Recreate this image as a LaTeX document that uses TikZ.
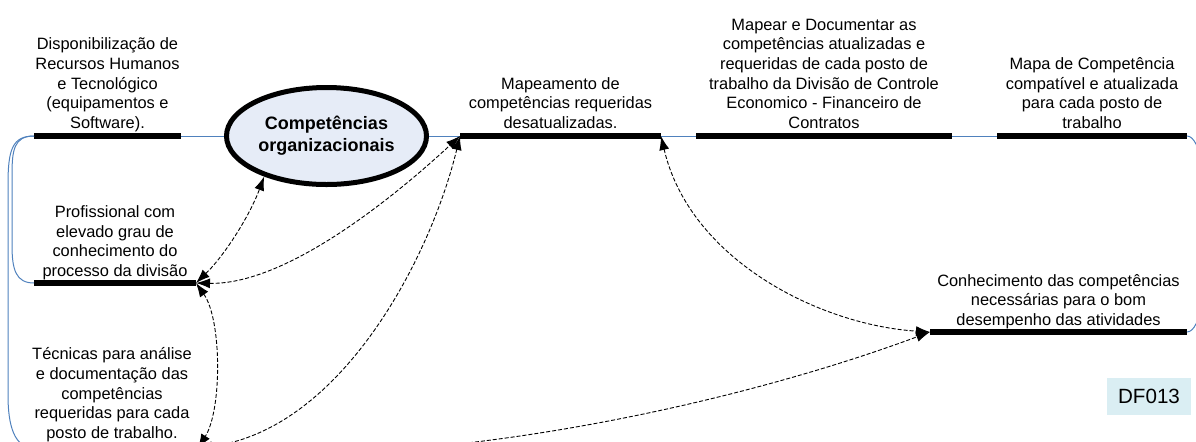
\documentclass[tikz,border=0pt]{standalone}
\usepackage{fontspec}
\setmainfont{Liberation Sans}
\usetikzlibrary{arrows.meta,shapes.geometric}
\definecolor{linkblue}{HTML}{4F81BD}
\definecolor{ovalfill}{HTML}{E6ECF7}
\definecolor{tagfill}{HTML}{DAEEF3}
\tikzset{
	bar/.style={line width=2.6pt},
	link/.style={linkblue,line width=0.5pt},
	dep/.style={dash pattern=on 2pt off 1pt,line width=0.45pt,{Latex[length=7pt,width=5pt]}-{Latex[length=7pt,width=5pt]}},
	lbl/.style={align=center,anchor=south,inner sep=0pt,text depth=0pt,font=\fontsize{8.2}{9.85}\selectfont},
	oval/.style={ellipse,draw,line width=2.5pt,fill=ovalfill,minimum width=100pt,minimum height=48.5pt,inner sep=0pt,align=center,font=\fontsize{9}{11}\selectfont\bfseries},
	tag/.style={fill=tagfill,minimum width=42pt,minimum height=18.5pt,inner sep=0pt,font=\fontsize{10.3}{12}\selectfont},
}

\begin{document}
\begin{tikzpicture}[x=0.5pt,y=-0.5pt]
	\useasboundingbox (0,0) rectangle (1196,441);
	% bars
	\coordinate (dispW) at (34,136);
	\coordinate (dispE) at (181,136);
	\coordinate (profW) at (34,283);
	\coordinate (profE) at (196,283);
	\coordinate (tecW) at (34,448);
	\coordinate (tecE) at (198,448);
	\coordinate (mapW) at (460,136);
	\coordinate (mapE) at (661,136);
	\coordinate (docW) at (696,136);
	\coordinate (docE) at (952,136);
	\coordinate (mapaW) at (997,136);
	\coordinate (mapaE) at (1187,136);
	\coordinate (conW) at (930,332);
	\coordinate (conE) at (1187,332);
	\draw[bar] (dispW) -- (dispE);
	\draw[bar] (profW) -- (profE);
	\draw[bar] (tecW) -- (tecE);
	\draw[bar] (mapW) -- (mapE);
	\draw[bar] (docW) -- (docE);
	\draw[bar] (mapaW) -- (mapaE);
	\draw[bar] (conW) -- (conE);

	\node[oval] (oval) at (326.5,136) {Competências\\organizacionais};
	\node[tag] (df) at (1149,396.5) {DF013};

	\node[lbl] (tDisp) at (107.5,129) {Disponibilização de\\Recursos Humanos\\e Tecnológico\\(equipamentos e\\Software).};
	\node[lbl] (tProf) at (115,277) {Profissional com\\elevado grau de\\conhecimento do\\processo da divisão};
	\node[lbl] (tTec) at (112,439) {Técnicas para análise\\e documentação das\\competências\\requeridas para cada\\posto de trabalho.};
	\node[lbl] (tMap) at (560.5,129) {Mapeamento de\\competências requeridas\\desatualizadas.};
	\node[lbl] (tDoc) at (824,129) {Mapear e Documentar as\\competências atualizadas e\\requeridas de cada posto de\\trabalho da Divisão de Controle\\Economico - Financeiro de\\Contratos};
	\node[lbl] (tMapa) at (1092,129) {Mapa de Competência\\compatível e atualizada\\para cada posto de\\trabalho};
	\node[lbl] (tCon) at (1058.5,326) {Conhecimento das competências\\necessárias para o bom\\desempenho das atividades};

	% blue flow
	\draw[link] (dispE) -- (oval.west);
	\draw[link] (oval.east) -- (mapW);
	\draw[link] (mapE) -- (docW);
	\draw[link] (docE) -- (mapaW);
	\draw[link] (mapaE) .. controls (1215,136) and (1215,332) .. (conE);
	\draw[link] (dispW) .. controls (14,136) and (12,150) .. (12,175) -- (12,245) .. controls (12,270) and (16,283) .. (profW);
	\draw[link] (dispW) .. controls (12,136) and (8,150) .. (8,185) -- (8,395) .. controls (8,425) and (14,448) .. (tecW);

	% dashed links
	\draw[dep] (profE) .. controls (225,255) and (250,215) .. (oval.213);
	\draw[dep] (profE) .. controls (280,285) and (380,210) .. (mapW);
	\draw[dep] (profE) .. controls (222,320) and (222,410) .. (tecE);
	\draw[dep] (tecE) .. controls (340,430) and (430,260) .. (mapW);
	\draw[dep] (tecE) .. controls (420,470) and (720,410) .. (conW);
	\draw[dep] (mapE) .. controls (690,260) and (820,325) .. (conW);
\end{tikzpicture}
\end{document}
